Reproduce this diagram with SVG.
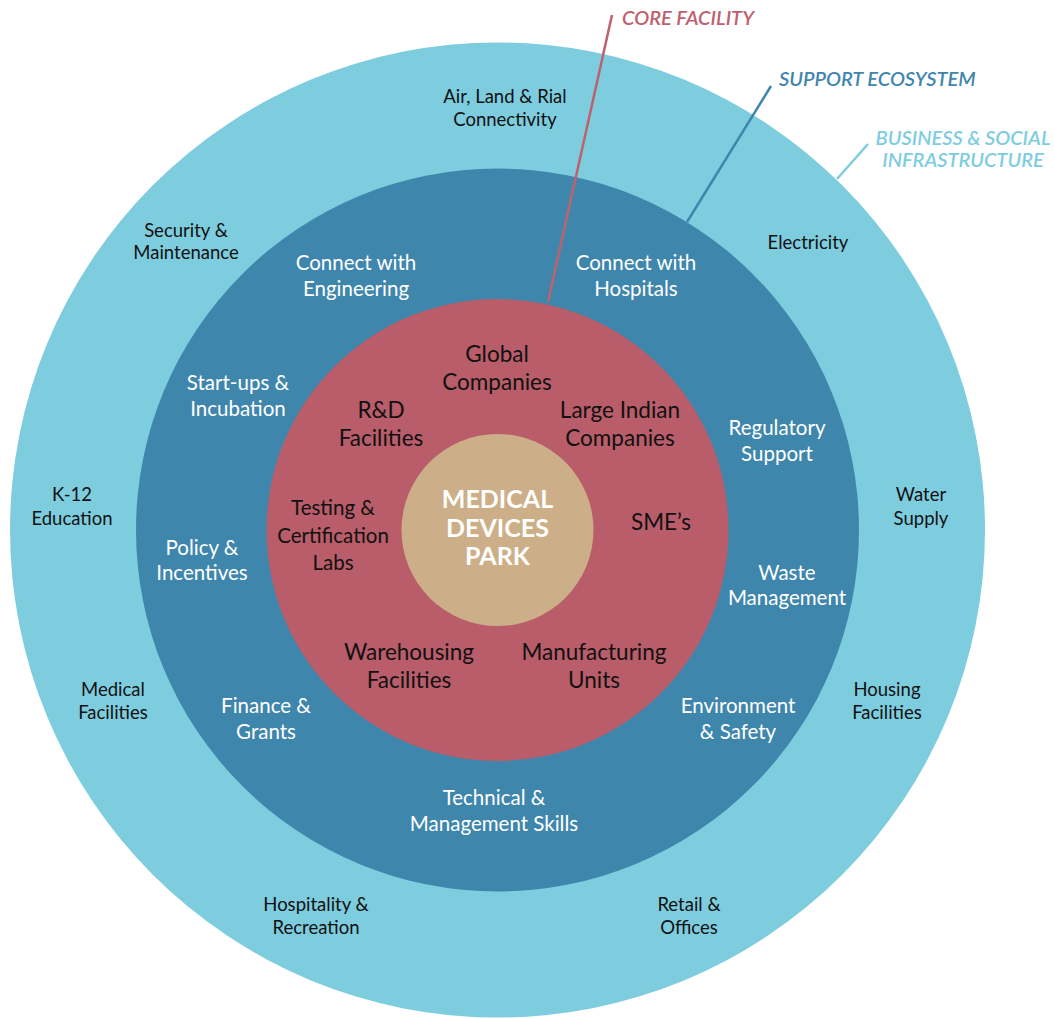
<svg xmlns="http://www.w3.org/2000/svg" width="1054" height="1019" viewBox="0 0 1054 1019">
<style>
text{font-family:Lato,"Open Sans","Liberation Sans",sans-serif;text-anchor:middle}
.o{font-size:18.5px;fill:#111}
.m{font-size:20.5px;fill:#fff}
.r{font-size:22.5px;fill:#111}
.c{font-size:25px;font-weight:bold;fill:#fff}
.lab{font-size:20px;font-style:italic;font-weight:600}
</style>
<rect width="1054" height="1019" fill="#fff"/>
<g id="ring-outer"><circle cx="497.5" cy="530" r="487.5" fill="#7ECDDF"/></g>
<g id="ring-middle"><circle cx="497.5" cy="530" r="361.5" fill="#3F86AD"/></g>
<g id="ring-core"><circle cx="497.5" cy="530" r="231" fill="#B85D69"/></g>
<g id="center"><circle cx="497.5" cy="530" r="96" fill="#CCAF88"/>
<text class="c" x="497.5" y="508">MEDICAL</text>
<text class="c" x="497.5" y="537">DEVICES</text>
<text class="c" x="497.5" y="565">PARK</text></g>
<g id="connectors" stroke-width="2.5" fill="none">
<line x1="548" y1="302" x2="612" y2="15" stroke="#C0606E"/>
<line x1="687" y1="222" x2="771" y2="86" stroke="#3F86AD"/>
<line x1="837" y1="179" x2="868" y2="144" stroke="#7ECDDF"/>
</g>
<g id="labels" class="lab">
<text x="622" y="25" fill="#C0606E" style="text-anchor:start">CORE FACILITY</text>
<text x="779" y="86" fill="#3F86AD" style="text-anchor:start">SUPPORT ECOSYSTEM</text>
<text x="963" y="145" fill="#7ECDDF">BUSINESS &amp; SOCIAL</text>
<text x="963" y="167" fill="#7ECDDF">INFRASTRUCTURE</text>
</g>
<g id="outer-items" class="o">
<g id="air"><text x="505" y="103">Air, Land &amp; Rial</text><text x="505" y="126">Connectivity</text></g>
<g id="security"><text x="186" y="237">Security &amp;</text><text x="186" y="259">Maintenance</text></g>
<g id="electricity"><text x="808" y="249">Electricity</text></g>
<g id="k12"><text x="72" y="501">K-12</text><text x="72" y="525">Education</text></g>
<g id="water"><text x="921" y="501">Water</text><text x="921" y="525">Supply</text></g>
<g id="medical"><text x="113" y="696">Medical</text><text x="113" y="719">Facilities</text></g>
<g id="housing"><text x="887" y="696">Housing</text><text x="887" y="719">Facilities</text></g>
<g id="hospitality"><text x="316" y="911">Hospitality &amp;</text><text x="316" y="934">Recreation</text></g>
<g id="retail"><text x="689" y="911">Retail &amp;</text><text x="689" y="934">Offices</text></g>
</g>
<g id="middle-items" class="m">
<g id="engineering"><text x="356" y="270">Connect with</text><text x="356" y="296">Engineering</text></g>
<g id="hospitals"><text x="636" y="270">Connect with</text><text x="636" y="296">Hospitals</text></g>
<g id="startups"><text x="238" y="390">Start-ups &amp;</text><text x="238" y="416">Incubation</text></g>
<g id="regulatory"><text x="777" y="435">Regulatory</text><text x="777" y="461">Support</text></g>
<g id="policy"><text x="202" y="555">Policy &amp;</text><text x="202" y="580">Incentives</text></g>
<g id="waste"><text x="787" y="580">Waste</text><text x="787" y="605">Management</text></g>
<g id="finance"><text x="266" y="713">Finance &amp;</text><text x="266" y="739">Grants</text></g>
<g id="environment"><text x="738" y="713">Environment</text><text x="738" y="739">&amp; Safety</text></g>
<g id="technical"><text x="494" y="805">Technical &amp;</text><text x="494" y="831">Management Skills</text></g>
</g>
<g id="core-items" class="r">
<g id="global"><text x="497" y="362">Global</text><text x="497" y="390">Companies</text></g>
<g id="rnd"><text x="381" y="418">R&amp;D</text><text x="381" y="446">Facilities</text></g>
<g id="large"><text x="620" y="418">Large Indian</text><text x="620" y="446">Companies</text></g>
<g id="testing" style="font-size:20.5px"><text x="333" y="515">Testing &amp;</text><text x="333" y="543">Certification</text><text x="333" y="570">Labs</text></g>
<g id="sme"><text x="661" y="530">SME’s</text></g>
<g id="warehousing"><text x="409" y="660">Warehousing</text><text x="409" y="688">Facilities</text></g>
<g id="manufacturing"><text x="594" y="660">Manufacturing</text><text x="594" y="688">Units</text></g>
</g>
</svg>
